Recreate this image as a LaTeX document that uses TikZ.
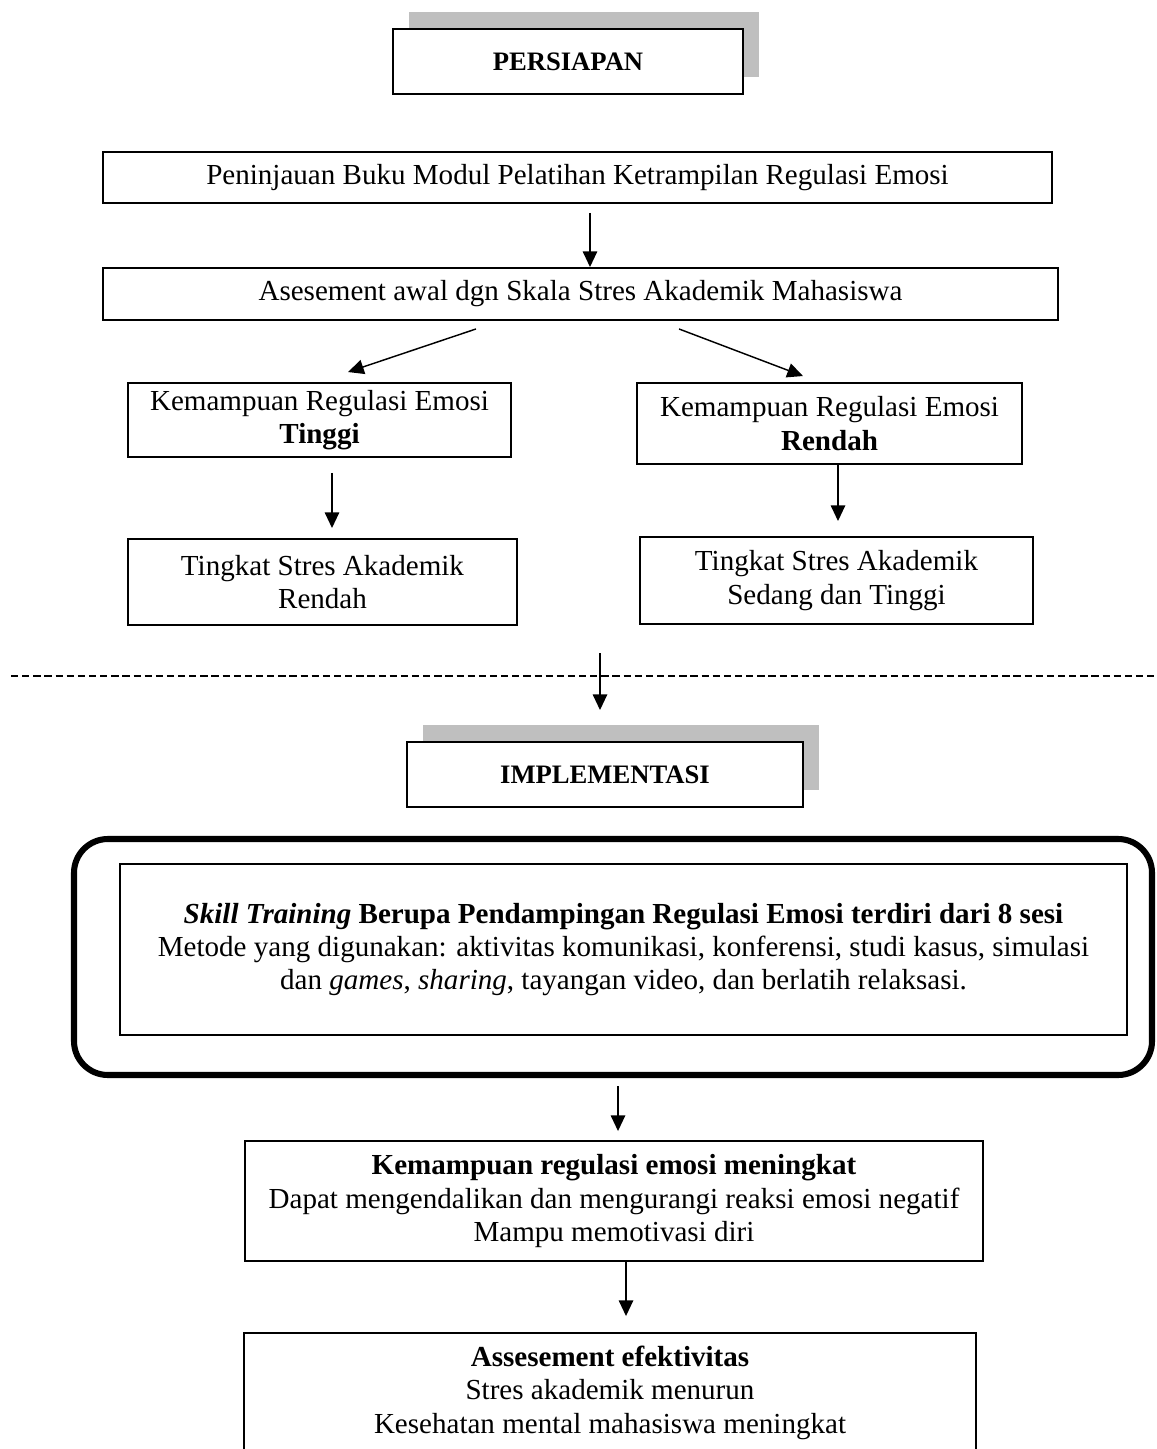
\documentclass[tikz,border=0pt]{standalone}
\usepackage{fontspec}
\setmainfont{Liberation Serif}
\usetikzlibrary{arrows.meta,calc,shadows}

\tikzset{
  kotak/.style 2 args={draw, fill=white, line width=0.8pt, inner sep=0pt,
    align=center, minimum width={#1*0.413pt}, minimum height={#2*0.413pt}},
  judul/.style 2 args={kotak={#1}{#2},
    font=\fontsize{11pt}{13pt}\selectfont\bfseries,
    drop shadow={shadow xshift=6.6pt, shadow yshift=7pt,
      fill=black!25, opacity=1}},
  bingkai/.style 2 args={kotak={#1}{#2}, fill=none,
    line width=2.5pt, rounded corners=14pt},
  panah/.style={->, line width=0.6pt},
  pemisah/.style={dash pattern=on 3pt off 1.6pt, line width=0.8pt}
}

\begin{document}
\begin{tikzpicture}[x=0.413pt, y=-0.413pt,
    >={Triangle[length=6.5pt, width=6pt]},
    font=\fontsize{12pt}{13.8pt}\selectfont]
    \useasboundingbox (0, 0) rectangle (1156, 1449);
    \clip (0, 0) rectangle (1156, 1449);

    % persiapan
    \node[judul={350}{65}] at (568, 61.5) (persiapan)
      {PERSIAPAN};
    \node[kotak={949}{51}] at (577.5, 177.5) (tinjau)
      {Peninjauan Buku Modul Pelatihan Ketrampilan Regulasi Emosi};
    \node[kotak={955}{52}] at (580.5, 294) (asesmen)
      {Asesement awal dgn Skala Stres Akademik Mahasiswa};
    \node[kotak={383}{74}] at (319.5, 420) (tinggi)
      {Kemampuan Regulasi Emosi\\ \textbf{Tinggi}};
    \node[kotak={385}{81}] at (829.5, 423.5) (rendah)
      {Kemampuan Regulasi Emosi\\ \textbf{Rendah}};
    \node[kotak={389}{86}] at (322.5, 582) (stresR)
      {Tingkat Stres Akademik\\ Rendah};
    \node[kotak={393}{87}] at (836.5, 580.5) (stresT)
      {Tingkat Stres Akademik\\ Sedang dan Tinggi};

    \coordinate (garisA) at (11, 676);
    \coordinate (garisB) at (1156, 676);
    \draw[pemisah] (garisA) -- (garisB);
    \coordinate (lanjut) at (600, 653);

    % implementasi
    \node[judul={396}{65}] at (605, 774.5) (implementasi)
      {IMPLEMENTASI};
    \node[bingkai={1078}{236}] at (613, 957) (training) {};
    \node[kotak={1007}{171}, line width=0.5pt] at (623.5, 949.5) (sesi)
      {\textbf{\textit{Skill Training} Berupa Pendampingan Regulasi Emosi terdiri dari 8 sesi}\\
       Metode yang digunakan: aktivitas komunikasi, konferensi, studi kasus, simulasi\\
       dan \textit{games}, \textit{sharing}, tayangan video, dan berlatih relaksasi.};
    \node[kotak={738}{120}] at (614, 1201) (meningkat)
      {\textbf{Kemampuan regulasi emosi meningkat}\\
       Dapat mengendalikan dan mengurangi reaksi emosi negatif\\
       Mampu memotivasi diri};
    \node[kotak={732}{119}] at (610, 1392.5) (efektif)
      {\textbf{Assesement efektivitas}\\
       Stres akademik menurun\\
       Kesehatan mental mahasiswa meningkat};

    \path[panah]
      ($(tinjau.south)+(12.5,9)$) edge ($(asesmen.north)+(9.5,0)$)
      ($(asesmen.south)+(-104.5,8)$) edge ($(tinggi.north)+(28.5,-10)$)
      ($(asesmen.south)+(98.5,8)$) edge ($(rendah.north)+(-26.5,-6)$)
      ($(tinggi.south)+(12.5,15)$) edge ($(stresR.north)+(9.5,-10)$)
      ($(rendah.south)+(8.5,0)$) edge ($(stresT.north)+(1.5,-15)$);
    \path[panah]
      (lanjut) edge ($(implementasi.north)+(-5,-31)$)
      ($(training.south)+(5,8)$) edge ($(meningkat.north)+(4,-9)$)
      ($(meningkat.south)+(12,0)$) edge ($(efektif.north)+(16,-16)$);
  \end{tikzpicture}
\end{document}
